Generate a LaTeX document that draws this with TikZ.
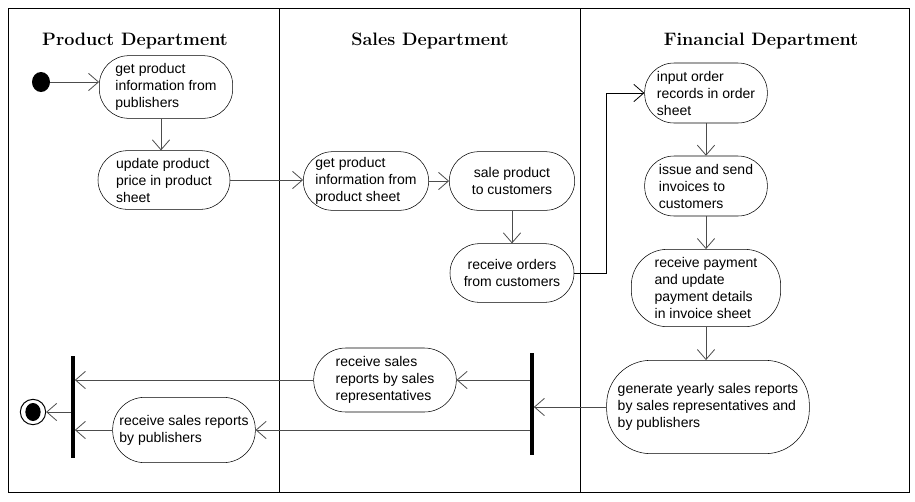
\documentclass[tikz,border=0pt]{standalone}
\usepackage{fontspec}
\setsansfont{Liberation Sans}
\usepackage{tikz}
\usetikzlibrary{arrows.meta, positioning, calc, shapes.geometric}

\begin{document}
\begin{tikzpicture}[x=0.75pt, y=-0.75pt,
    act/.style={draw, rounded corners=22pt, align=left, inner sep=2pt,
      font=\sffamily\fontsize{10.5}{12.75}\selectfont},
    lane/.style={font=\fontsize{13.5}{15}\selectfont\bfseries},
    flow/.style={-{Straight Barb[length=7.5pt, width=13pt]}, draw=black!70, line width=0.6pt},
    bar/.style={fill=black, inner sep=0pt, minimum width=2.4pt}]
    \useasboundingbox (0,0) rectangle (915,501);
    % swimlanes
    \draw[line width=0.75pt] (8,8) rectangle (909,492);
    \draw[line width=0.75pt] (279,8) -- (279,492);
    \draw[line width=0.75pt] (580,8) -- (580,492);
    \node[lane] (prodlane) at (135,41) {Product Department};
    \node[lane] (saleslane) at (430,41) {Sales Department};
    \node[lane] (finlane) at (761,41) {Financial Department};

    % start and end
    \node[fill=black, ellipse, inner sep=0pt, minimum width=13.5pt, minimum height=15pt] (start) at (41,82) {};
    \node[draw, circle, inner sep=0pt, minimum size=19pt, line width=0.75pt] (finish) at (33,412) {};
    \node[fill=black, ellipse, inner sep=0pt, minimum width=11.5pt, minimum height=13.5pt] at (finish) {};

    % product department
    \node[act, minimum width=100pt, minimum height=47pt] (getpub) at (166,87) {get product\\information from\\publishers};
    \node[act, minimum width=99pt, minimum height=44pt] (update) at (164,180) {update product\\price in product\\sheet};
    \node[act, minimum width=107pt, minimum height=49pt, rounded corners=24pt] (pubrep) at (184,430) {receive sales reports\\by publishers};
    \node[bar, minimum height=77pt] (join) at (73,407) {};

    % sales department
    \node[act, minimum width=94pt, minimum height=44pt] (getsheet) at (366,181) {get product\\information from\\product sheet};
    \node[act, minimum width=94pt, minimum height=44pt, align=center] (sale) at (512,181) {sale product\\to customers};
    \node[act, minimum width=93pt, minimum height=44pt, align=center] (orders) at (512,273) {receive orders\\from customers};
    \node[act, minimum width=107pt, minimum height=48pt, rounded corners=24pt] (reprep) at (385,380) {receive sales\\reports by sales\\representatives};
    \node[bar, minimum height=77pt] (fork) at (532,404) {};

    % financial department
    \node[act, minimum width=92pt, minimum height=45pt] (input) at (706,93) {input order\\records in order\\sheet};
    \node[act, minimum width=92pt, minimum height=45pt] (invoice) at (706,186) {issue and send\\invoices to\\customers};
    \node[act, minimum width=112pt, minimum height=58pt, rounded corners=27pt] (payment) at (706,288) {receive payment\\and update\\payment details\\in invoice sheet};
    \node[act, minimum width=152pt, minimum height=70pt, rounded corners=33pt] (yearly) at (708,407) {generate yearly sales reports\\by sales representatives and\\by publishers};

    % flows
    \draw[flow] (start.east) -- (start.east -| getpub.west);
    \draw[flow] (getpub.south -| 161,0) -- (update.north -| 161,0);
    \draw[flow] (update.east) -- (update.east -| getsheet.west);
    \draw[flow] (getsheet.east) -- (getsheet.east -| sale.west);
    \draw[flow] (sale) -- (orders);
    \draw[flow, draw=black] (orders.east) -- ++(32,0) |- (input.west);
    \draw[flow] (input) -- (invoice);
    \draw[flow] (invoice) -- (payment);
    \draw[flow] (payment.south) -- (payment.south |- yearly.north);
    \draw[flow] (yearly.west) -- (yearly.west -| fork.east);
    \draw[flow] (fork.west |- reprep.east) -- (reprep.east);
    \draw[flow] (fork.west |- pubrep.east) -- (pubrep.east);
    \draw[flow] (reprep.west) -- (reprep.west -| join.east);
    \draw[flow] (pubrep.west) -- (pubrep.west -| join.east);
    \draw[flow] (join.west |- finish.east) -- (finish.east);
  \end{tikzpicture}
\end{document}
